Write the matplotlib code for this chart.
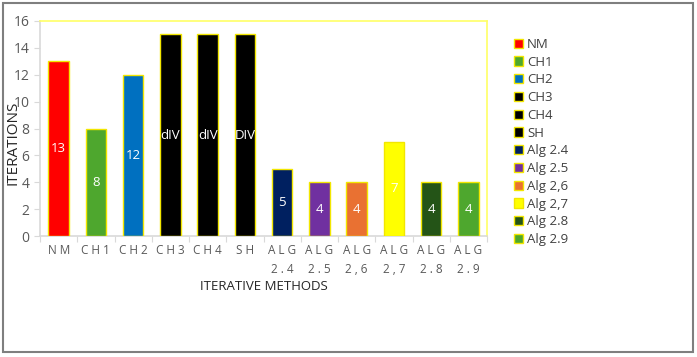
import matplotlib
matplotlib.use("Agg")
import matplotlib.pyplot as plt
from matplotlib.patches import Rectangle, Patch
import numpy as np

categories = ["NM", "CH1", "CH2", "CH3", "CH4", "SH", "ALG\n2.4", "ALG\n2.5", "ALG\n2,6", "ALG\n2,7", "ALG\n2.8", "ALG\n2.9"]
legend_names = ["NM", "CH1", "CH2", "CH3", "CH4", "SH", "Alg 2.4", "Alg 2.5", "Alg 2,6", "Alg 2,7", "Alg 2.8", "Alg 2.9"]
values = [13, 8, 12, 15, 15, 15, 5, 4, 4, 7, 4, 4]
bar_labels = ["13", "8", "12", "dIV", "dIV", "DIV", "5", "4", "4", "7", "4", "4"]
colors = ["#FF0000", "#4EA72E", "#0070C0", "#000000", "#000000", "#000000",
          "#002060", "#7030A0", "#E97132", "#FFFF00", "#245417", "#4EA72E"]

plt.rcParams['font.family'] = ['Open Sans', 'DejaVu Sans']

fig = plt.figure(figsize=(6.97, 3.57), dpi=100)
ax = fig.add_axes([40/697, 1-236/357, 447/697, 215/357])

x = np.arange(len(categories))
handles = []
for i, (v, c, name, lab) in enumerate(zip(values, colors, legend_names, bar_labels)):
    b = ax.bar(x[i], v, width=0.55, color=c, edgecolor="#F2E600", linewidth=1.0, label=name, zorder=3)
    ax.text(x[i], v/2, lab, ha="center", va="center", color="white", fontsize=9.5, zorder=4)
    handles.append(b)

ax.set_xlim(-0.5, len(categories)-0.5)
ax.set_ylim(0, 16)
ax.set_yticks(np.arange(0, 17, 2))
ax.tick_params(axis="y", colors="#595959", labelsize=10, length=4, width=0.8, color="#D9D9D9")
ax.set_xticks(x)

def spaced(s):
    return "\n".join(" ".join(list(line)) for line in s.split("\n"))

ax.set_xticklabels([spaced(c) for c in categories], color="#595959", fontsize=8.5, linespacing=1.6)
ax.tick_params(axis="x", length=0, pad=6)
ax.set_xticks(np.arange(-0.5, len(categories), 1), minor=True)
ax.tick_params(axis="x", which="minor", length=4, color="#D9D9D9", width=0.8)

ax.spines["top"].set_color("#FFFF66")
ax.spines["right"].set_color("#FFFF66")
ax.spines["left"].set_color("#D9D9D9")
ax.spines["bottom"].set_color("#D9D9D9")
for s in ax.spines.values():
    s.set_linewidth(1.2)

ax.set_xlabel("ITERATIVE METHODS", fontsize=9.5, color="#262626", labelpad=3)
fig.text(13/697, 1-143/357, "ITERATIONS", rotation=90, ha="center", va="center", fontsize=11, color="#262626")

leg = fig.legend(handles=[Patch(facecolor=c, edgecolor="#F2E600", linewidth=1.0) for c in colors],
                 labels=legend_names, loc="upper left", bbox_to_anchor=(502/697, 1-26/357),
                 frameon=False, fontsize=9.5, handlelength=0.7, handleheight=0.7,
                 handletextpad=0.3, labelspacing=0.36, labelcolor="#404040")

fig.patches.append(Rectangle((3/697, 5/357), 690/697, 349/357, transform=fig.transFigure,
                             fill=False, edgecolor="#7F7F7F", linewidth=1.5))

fig.savefig("out.png", dpi=100)
